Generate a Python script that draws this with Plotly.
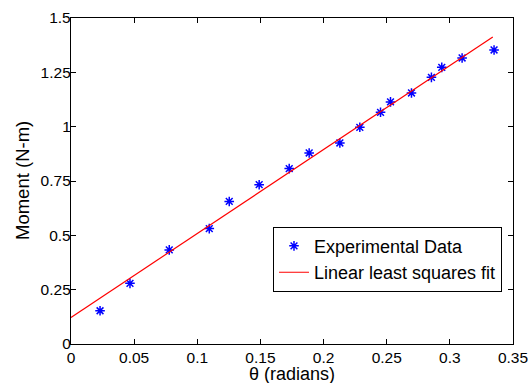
import plotly.graph_objects as go

theta = [0.023, 0.0467, 0.0778, 0.1095, 0.1253, 0.149, 0.1728, 0.1886, 0.2129,
         0.2287, 0.2451, 0.253, 0.2696, 0.2854, 0.2936, 0.3097, 0.335]
moment = [0.153, 0.279, 0.433, 0.531, 0.656, 0.733, 0.807, 0.879, 0.925,
          0.997, 1.066, 1.114, 1.155, 1.227, 1.273, 1.316, 1.353]

fit_x = [0.0, 0.334]
fit_y = [0.122, 1.413]

x_ticks = [0, 0.05, 0.1, 0.15, 0.2, 0.25, 0.3, 0.35]
x_labels = ["0", "0.05", "0.1", "0.15", "0.2", "0.25", "0.3", "0.35"]
y_ticks = [0, 0.25, 0.5, 0.75, 1.0, 1.25, 1.5]
y_labels = ["0", "0.25", "0.5", "0.75", "1", "1.25", "1.5"]
x_title = "θ (radians)"
y_title = "Moment (N-m)"

font = "Liberation Sans, Arial, sans-serif"

fig = go.Figure()
fig.add_trace(go.Scatter(
    x=theta, y=moment, mode="markers", name="Experimental Data",
    marker=dict(symbol="asterisk-open", size=8, color="#0000ff",
                line=dict(color="#0000ff", width=1.5)),
))
fig.add_trace(go.Scatter(
    x=fit_x, y=fit_y, mode="lines", name="Linear least squares fit",
    line=dict(color="#ff0000", width=1.2),
))

axis_common = dict(
    showgrid=False, zeroline=False, showline=True, linecolor="black", linewidth=1.3,
    mirror="ticks", ticks="inside", ticklen=5, tickcolor="black", tickwidth=1,
    tickfont=dict(family=font, size=15.5, color="black"), automargin=False,
)

fig.update_layout(
    width=532, height=383,
    margin=dict(l=71, r=19, t=18, b=39),
    paper_bgcolor="white", plot_bgcolor="white",
    showlegend=True,
    legend=dict(
        x=0.457, y=0.36, xanchor="left", yanchor="top",
        bgcolor="white", bordercolor="black", borderwidth=1,
        font=dict(family=font, size=18, color="black"),
        tracegroupgap=0, itemwidth=30,
    ),
    xaxis=dict(range=[0, 0.35], tickvals=x_ticks, ticktext=x_labels, ticklabelstandoff=-1,
               **axis_common),
    yaxis=dict(range=[0, 1.5], tickvals=y_ticks, ticktext=y_labels, ticklabelstandoff=-4,
               **axis_common),
)

fig.add_annotation(text=x_title, xref="paper", yref="paper", x=0.5, y=0,
                   xanchor="center", yanchor="middle", yshift=-29.5, showarrow=False,
                   font=dict(family=font, size=18, color="black"))
fig.add_annotation(text=y_title, xref="paper", yref="paper", x=0, y=0.5,
                   xanchor="center", yanchor="middle", xshift=-49, textangle=-90,
                   showarrow=False, font=dict(family=font, size=18.5, color="black"))

fig.write_html("out.html")
